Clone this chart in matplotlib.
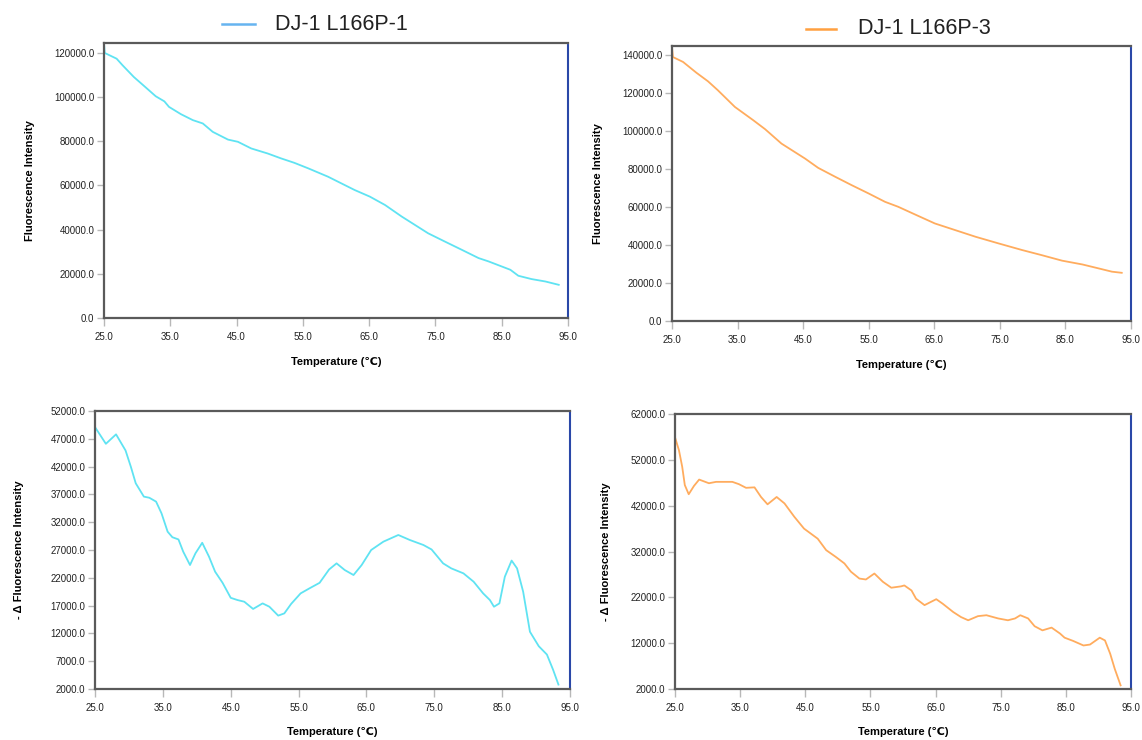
import matplotlib
matplotlib.use("Agg")
import matplotlib.pyplot as plt
from matplotlib.lines import Line2D

plt.rcParams['font.family'] = ['Liberation Sans', 'DejaVu Sans']

# raw melt curve, DJ-1 L166P-1
temp_raw_1 = [25.0, 25.1, 26.9, 27.8, 29.5, 31.1, 32.8, 34.1, 34.8, 36.6, 38.4, 39.9, 41.4, 43.7,
              45.2, 47.2, 49.7, 51.7, 53.7, 55.8, 58.8, 60.8, 62.8, 65.1, 67.4, 69.9, 71.9, 73.9,
              76.4, 79.0, 81.5, 83.0, 85.0, 86.3, 87.5, 89.5, 91.6, 93.6]
fluor_raw_1 = [124100, 119900, 117300, 114300, 109000, 104800, 100300, 98000, 95500, 92200, 89500,
               88000, 84200, 80700, 79700, 76700, 74400, 72200, 70200, 67700, 63900, 60900, 57900,
               54900, 51100, 45900, 42100, 38300, 34600, 30800, 27100, 25600, 23300, 21800, 19100,
               17600, 16500, 15000]

# raw melt curve, DJ-1 L166P-3
temp_raw_3 = [25.0, 25.15, 26.7, 28.7, 30.5, 32.0, 34.6, 37.4, 39.2, 41.7, 45.3, 47.3, 49.9, 52.4,
              55.0, 57.5, 59.5, 62.1, 65.1, 68.2, 71.3, 74.8, 78.4, 81.4, 84.5, 87.6, 90.1, 92.1, 93.6]
fluor_raw_3 = [144400, 139100, 136500, 130900, 126300, 121600, 112800, 105800, 101100, 93500, 85600,
               80700, 76000, 71600, 67200, 62800, 60200, 56100, 51400, 47900, 44400, 40900, 37400,
               34700, 31800, 29800, 27700, 26000, 25400]

# negative derivative, DJ-1 L166P-1
temp_d_1 = [25.0, 26.6, 28.1, 29.5, 30.3, 31.0, 32.2, 33.0, 34.0, 34.8, 35.7, 36.4, 37.3, 38.0, 39.0,
            39.8, 40.8, 41.8, 42.7, 43.8, 45.0, 46.0, 47.0, 48.3, 49.7, 50.7, 52.0, 52.9, 53.9, 55.3,
            56.6, 58.1, 59.5, 60.6, 61.8, 63.1, 64.3, 65.7, 67.5, 69.7, 71.4, 73.4, 74.6, 76.3, 77.5,
            79.3, 80.8, 82.2, 83.2, 83.8, 84.6, 85.4, 86.4, 87.2, 88.1, 89.1, 90.4, 91.6, 92.5, 93.3]
deriv_1 = [49100, 46100, 47800, 44900, 41900, 39000, 36600, 36400, 35700, 33600, 30300, 29300, 28900,
           26700, 24300, 26400, 28300, 25800, 23100, 21100, 18400, 18000, 17700, 16400, 17400, 16800,
           15200, 15600, 17300, 19200, 20100, 21100, 23500, 24600, 23400, 22500, 24300, 27000, 28500,
           29700, 28800, 27900, 27100, 24600, 23700, 22800, 21300, 19200, 18000, 16800, 17400, 22200,
           25100, 23700, 19500, 12300, 9700, 8200, 5500, 2800]

# negative derivative, DJ-1 L166P-3
temp_d_3 = [25.0, 25.6, 26.1, 26.5, 27.1, 27.9, 28.7, 30.2, 31.3, 33.8, 34.8, 35.9, 37.2, 38.2, 39.2,
            40.6, 41.8, 43.3, 44.8, 46.9, 48.2, 49.7, 51.0, 52.0, 53.3, 54.3, 55.6, 56.9, 58.2, 59.7,
            60.2, 61.3, 62.0, 63.3, 65.1, 66.1, 67.7, 68.9, 70.0, 71.5, 72.8, 74.6, 76.1, 77.2, 78.0,
            79.2, 80.2, 81.4, 82.8, 84.1, 84.8, 86.1, 87.7, 88.7, 90.2, 91.0, 91.8, 92.5, 93.4]
deriv_3 = [56900, 54100, 50500, 46500, 44500, 46300, 47700, 46900, 47200, 47200, 46700, 45900, 46000,
           43900, 42300, 43900, 42500, 39600, 37000, 34800, 32300, 30800, 29400, 27600, 26100, 25900,
           27200, 25400, 24100, 24400, 24600, 23500, 21700, 20300, 21600, 20600, 18800, 17700, 17000,
           17900, 18100, 17400, 17000, 17400, 18100, 17400, 15700, 14800, 15400, 14100, 13200, 12500,
           11500, 11700, 13200, 12600, 9700, 6400, 2800]

x_ticks = [25, 35, 45, 55, 65, 75, 85, 95]
cyan = '#5fe3f2'
orange = '#ffac5e'


def style_axes(ax, ylim, yticks, ylabel, xpad=12, ypad=14):
    ax.set_xlim(25, 95)
    ax.set_ylim(*ylim)
    ax.set_xticks(x_ticks)
    ax.set_yticks(yticks)
    ax.set_xticklabels(['%.1f' % t for t in x_ticks])
    ax.set_yticklabels(['%.1f' % t for t in yticks])
    ax.tick_params(axis='both', labelsize=7, color='#b8b8b8', length=5, width=1, labelcolor='#222222', pad=2)
    ax.tick_params(axis='x', length=6, pad=4)
    for side in ['left', 'top', 'bottom']:
        ax.spines[side].set_color('#5a5a5a')
        ax.spines[side].set_linewidth(1.6)
    ax.spines['right'].set_color('#2a48a8')
    ax.spines['right'].set_linewidth(1.5)
    ax.spines['right'].set_linestyle((0, (1, 1)))
    ax.set_xlabel('Temperature (℃)', fontsize=8, fontweight='bold', labelpad=xpad)
    ax.set_ylabel(ylabel, fontsize=8, fontweight='bold', labelpad=ypad)


fig = plt.figure(figsize=(11.42, 7.40), dpi=100)

ax1 = fig.add_axes([0.0911, 0.5703, 0.4063, 0.3716])
ax1.plot(temp_raw_1, fluor_raw_1, color=cyan, lw=1.3)
style_axes(ax1, (0, 124400), range(0, 120001, 20000), 'Fluorescence Intensity', xpad=11)

ax2 = fig.add_axes([0.5884, 0.5662, 0.4019, 0.3716])
ax2.plot(temp_raw_3, fluor_raw_3, color=orange, lw=1.3)
style_axes(ax2, (0, 144900), range(0, 140001, 20000), 'Fluorescence Intensity', xpad=11)

ax3 = fig.add_axes([0.0832, 0.0689, 0.4159, 0.3757])
ax3.plot(temp_d_1, deriv_1, color=cyan, lw=1.3)
style_axes(ax3, (2000, 52000), range(2000, 52001, 5000), '- Δ Fluorescence Intensity', xpad=10, ypad=19)

ax4 = fig.add_axes([0.5911, 0.0689, 0.3993, 0.3716])
ax4.plot(temp_d_3, deriv_3, color=orange, lw=1.3)
style_axes(ax4, (2000, 62000), range(2000, 62001, 10000), '- Δ Fluorescence Intensity', xpad=10, ypad=14)

# legend-style headers
fig.add_artist(Line2D([222 / 1142, 255 / 1142], [1 - 24 / 740, 1 - 24 / 740], color='#66b4f0', lw=1.8))
fig.text(275 / 1142, 1 - 24 / 740, 'DJ-1 L166P-1', fontsize=15.5, color='#222222', va='center')
fig.add_artist(Line2D([806 / 1142, 836 / 1142], [1 - 29 / 740, 1 - 29 / 740], color='#ffa040', lw=1.8))
fig.text(858 / 1142, 1 - 29 / 740, 'DJ-1 L166P-3', fontsize=15.5, color='#222222', va='center')

fig.savefig('out.png', dpi=100)
